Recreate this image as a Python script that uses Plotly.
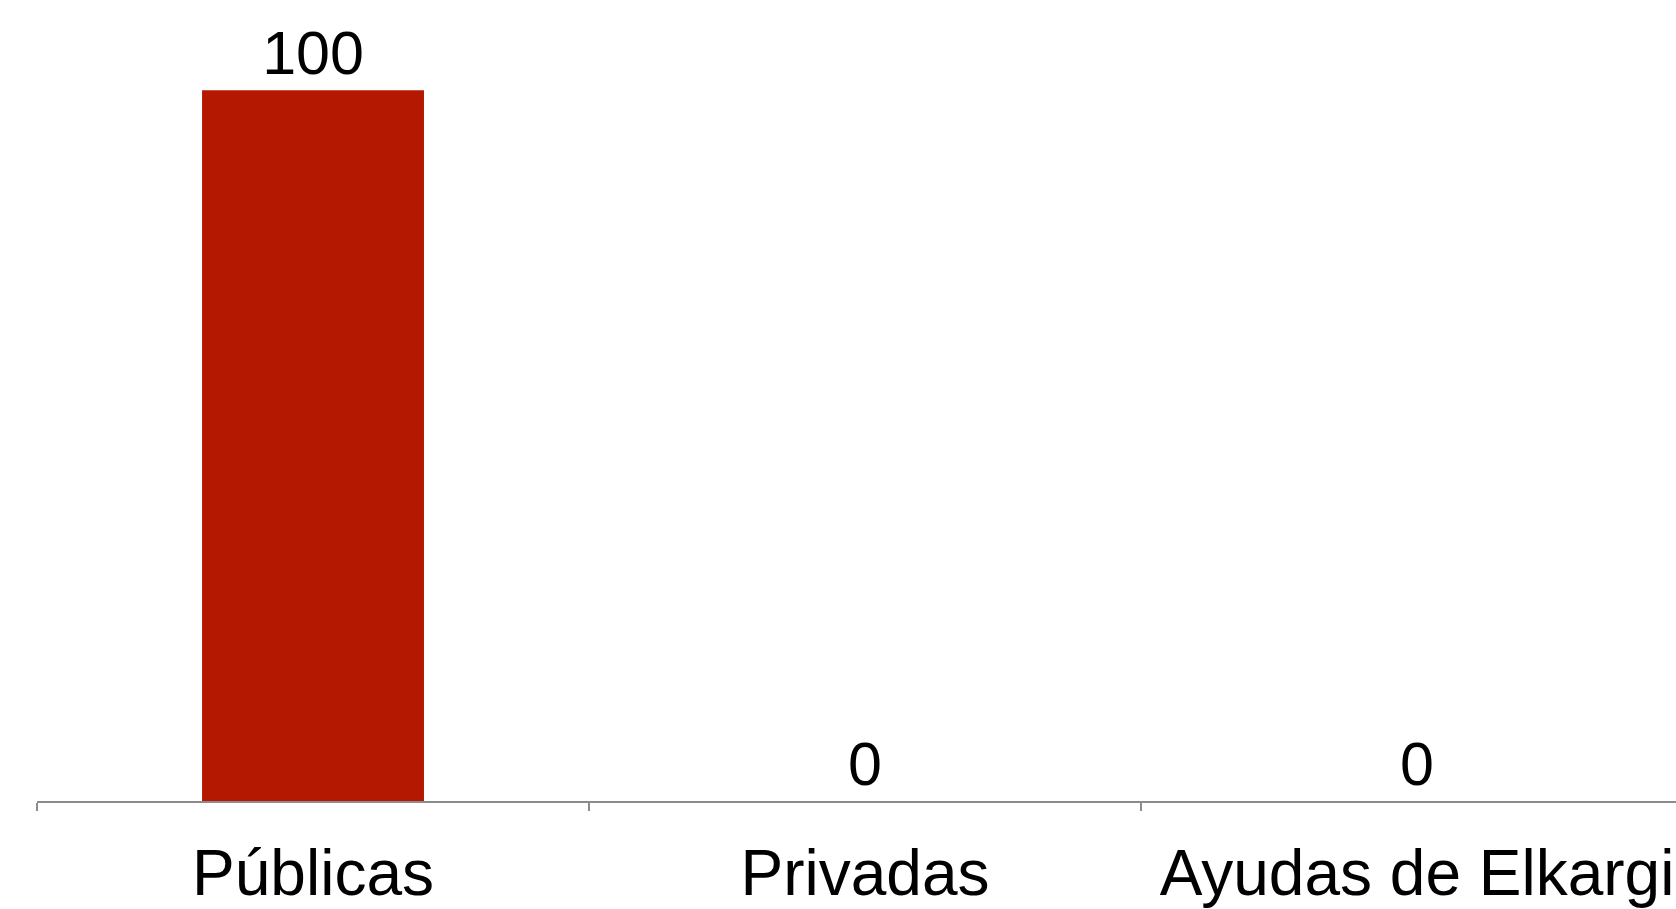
import plotly.graph_objects as go

categories = ["Públicas", "Privadas", "Ayudas de Elkargi"]
values = [100, 0, 0]
value_labels = ["100", "0", "0"]

bar_color = "#B41800"
font_family = "Liberation Sans, Arial, sans-serif"

fig = go.Figure(
    go.Bar(
        x=categories,
        y=values,
        text=value_labels,
        textposition="outside",
        cliponaxis=False,
        marker=dict(color=bar_color, line=dict(width=0)),
        width=0.402,
        textfont=dict(family=font_family, size=61, color="#000000"),
    )
)

fig.update_layout(
    width=1676,
    height=909,
    margin=dict(l=37, r=0, t=0, b=102),
    paper_bgcolor="white",
    plot_bgcolor="white",
    showlegend=False,
)

fig.update_xaxes(
    type="category",
    range=[-0.5, 2.469],
    showline=True,
    linecolor="#8C8C8C",
    linewidth=2,
    ticks="outside",
    tickson="boundaries",
    ticklen=8,
    tickwidth=2,
    tickcolor="#8C8C8C",
    showgrid=False,
    ticklabelstandoff=15,
    tickfont=dict(family=font_family, size=64, color="#000000"),
)

fig.update_yaxes(
    range=[0, 112.7],
    visible=False,
    showgrid=False,
    zeroline=False,
)

fig.write_html(
    "out.html",
    config={"displayModeBar": False},
    post_script="document.body.style.margin='0';document.body.style.overflow='hidden';",
)
